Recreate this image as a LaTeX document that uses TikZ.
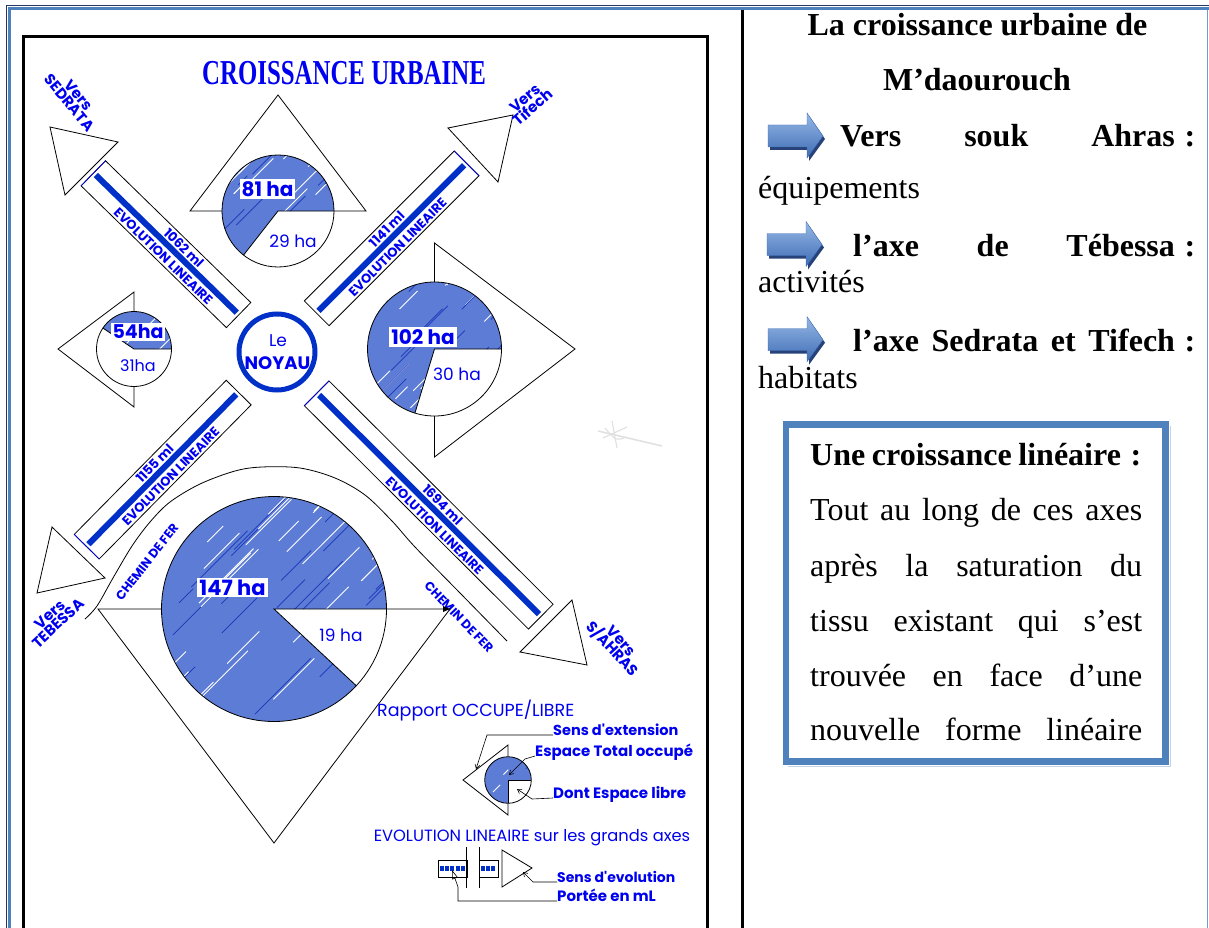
\documentclass[tikz,border=0pt]{standalone}
\usepackage{fontspec}
\setmainfont{Liberation Serif}
\newfontfamily\diagfont{Poppins}
\usetikzlibrary{arrows.meta}

\definecolor{tblnavy}{RGB}{35,55,95}
\definecolor{tblblue}{RGB}{79,129,189}
\definecolor{inkblue}{RGB}{0,0,240}
\definecolor{barblue}{RGB}{0,48,200}
\definecolor{piefill}{RGB}{92,124,214}
\definecolor{piedark}{RGB}{25,55,185}
\definecolor{arrowtop}{RGB}{150,184,230}
\definecolor{arrowbot}{RGB}{62,108,180}
\definecolor{arrowshade}{RGB}{38,66,120}

\newcommand\fsz[1]{\fontsize{#1}{#1}\selectfont}

\tikzset{
  outline/.style={draw=black, line width=0.8pt},
  ink/.style={text=inkblue, inner sep=0pt},
  lbl/.style={ink, font=\diagfont\fsz{#1}},
  lblb/.style={ink, font=\diagfont\bfseries\fsz{#1}},
  hapatch/.style={fill=white, inner sep=2pt},
  leader/.style={draw=black, line width=0.6pt},
  barb/.style={-{Straight Barb[length=4pt,width=5pt]}},
  prose/.style={inner sep=0pt, anchor=base west, font=\fsz{32}},
  prosebold/.style={inner sep=0pt, anchor=base west, font=\fsz{32}\bfseries},
}

% pie: centre x, centre y, radius, end angle of the free sector (clockwise from east), streaks
\newcommand\pie[5]{%
  \fill[white] (#1,#2) circle[radius=#3];
  \begin{scope}
    \clip (#1,#2) -- plot[domain=#4:360, samples=90, variable=\t] ({#1+#3*cos(\t)},{#2+#3*sin(\t)}) -- cycle;
    \fill[piefill] ({#1-#3},{#2-#3}) rectangle ({#1+#3},{#2+#3});
    \foreach \k in {1,...,#5}{%
      \pgfmathsetmacro\sx{#1-#3+2*#3*rnd}%
      \pgfmathsetmacro\sy{#2-#3+2*#3*rnd}%
      \pgfmathsetmacro\sl{0.1*#3+0.45*#3*rnd}%
      \draw[white, line width=0.9pt] (\sx,\sy) -- ++(\sl,-\sl);
      \pgfmathsetmacro\sx{#1-#3+2*#3*rnd}%
      \pgfmathsetmacro\sy{#2-#3+2*#3*rnd}%
      \pgfmathsetmacro\sl{0.1*#3+0.45*#3*rnd}%
      \draw[piedark, line width=0.7pt] (\sx,\sy) -- ++(\sl,-\sl);
    }
  \end{scope}
  \draw[outline] (#1,#2) circle[radius=#3];
  \draw[outline] ({#1+#3},#2) -- (#1,#2) -- ({#1+#3*cos(#4)},{#2+#3*sin(#4)});
}

% growth axis: start x, start y, direction, length, metric label,
% label positions along the axis, blue end tick, name
\newcommand\growtharm[9]{%
  \begin{scope}[shift={(#1,#2)}, rotate=#3, transform shape]
    \draw[outline, fill=white] (0,-17.5) rectangle (#4,17.5);
    \draw[barblue, line width=6pt] (3,-0.5) -- ({#4-3},-0.5);
    \draw[inkblue, line width=0.7pt] (#8,-17.5) -- (#8,17.5);
    \node[lblb=13] (#9-ml) at (#6,-10) {#5};
    \node[lblb=13] (#9-evo) at (#7,10.5) {EVOLUTION LINEAIRE};
  \end{scope}}

% 3D block arrow of the side text: top-left corner of the shaft
\newcommand\blockarrow[2]{%
  \begin{scope}[shift={(#1,#2)}]
    \fill[arrowshade] (2,3) -- (41,3) -- (41,-9) -- (57,14) -- (41,36) -- (41,25) -- (2,25) -- cycle;
    \shade[top color=arrowtop, bottom color=arrowbot, draw=arrowbot, line width=0.4pt]
      (0,0) -- (39,0) -- (39,-12) -- (55,11) -- (39,33) -- (39,22) -- (0,22) -- cycle;
  \end{scope}}

\begin{document}
\begin{tikzpicture}[x=1pt, y=-1pt]
\useasboundingbox (0,0) rectangle (1209,928);
\clip (0,0) rectangle (1209,928);
\fill[white] (0,0) rectangle (1209,928);
\pgfmathsetseed{17}

% table borders
\draw[tblnavy, line width=1.2pt] (6.5,940) -- (6.5,5.8) -- (1215,5.8);
\draw[tblblue, line width=2.6pt] (9.3,940) -- (9.3,8.7) -- (1215,8.7);
\draw[black, line width=2.4pt] (742.5,10) -- (742.5,940);
\draw[tblblue!80, line width=1pt] (1207.8,10) -- (1207.8,940);

% map frame
\draw[black, line width=3.4pt] (23.4,945) -- (23.4,36.8) -- (707.6,36.8) -- (707.6,945);

% title
\node[text=inkblue, inner sep=0pt, font=\fsz{35}\bfseries, xscale=0.71] (title) at (344,73.5) {CROISSANCE URBAINE};

% railway
\draw[outline] plot[smooth, tension=0.55] coordinates {(85,619) (97,606) (113,578) (132,546) (150,522) (170,502) (200,484) (235,471) (262,467) (300,468) (335,478) (365,495) (392,521) (415,547) (461,594) (507,641)};
\node[lblb=12.5, rotate=52] (rail-w) at (147,562) {CHEMIN DE FER};
\node[lblb=12.5, rotate=-46] (rail-e) at (459,617) {CHEMIN DE FER};

% the four growth axes
\growtharm{93.3}{173.3}{-44.3}{203}{1062 ml}{117}{108}{0}{nw}
\growtharm{316.7}{313.3}{45}{212}{1141 ml}{109}{104}{212}{ne}
\growtharm{86.7}{546.7}{45.4}{216.5}{1155 ml}{107}{109}{0}{sw}
\growtharm{316.7}{393.3}{-44.9}{316.4}{1694 ml}{168}{177}{0}{se}

% direction heads
\draw[outline, fill=white] (50,127) -- (118,142) -- (65,195) -- cycle;
\draw[outline, fill=white] (513,115) -- (448,128) -- (498,182) -- cycle;
\draw[outline, fill=white] (37,593) -- (52,527) -- (105,578) -- cycle;
\draw[outline, fill=white] (587,665) -- (520,652) -- (572,600) -- cycle;
\node[lblb=15, rotate=-50, align=center] (to-sedrata) at (74,99) {Vers\\[-3pt]SEDRATA};
\node[lblb=15, rotate=41, align=center] (to-tifech) at (529,103) {Vers\\[-3pt]Tifech};
\node[lblb=15, rotate=43, align=center] (to-tebessa) at (54,619) {Vers\\[-3pt]TEBESSA};
\node[lblb=15, rotate=-47, align=center] (to-ahras) at (616,646) {Vers\\[-3pt]S/AHRAS};

% extension triangles
\draw[outline, fill=white] (278,95) -- (366,211) -- (190,211) -- cycle;
\draw[outline, fill=white] (434.5,243) -- (575,349) -- (434.5,457) -- cycle;
\draw[outline, fill=white] (134,292) -- (58,349) -- (134,407) -- cycle;
\draw[outline, fill=white] (98,609) -- (450,609) -- (274,843) -- cycle;
\fill[black] (443,606) -- (450,609) -- (443,612) -- cycle;

% occupied / free areas
\pie{278}{211}{56}{128}{14}
\pie{434.5}{349}{67}{107}{16}
\pie{134}{349}{37.5}{214}{6}
\pie{274}{609}{112.5}{43}{30}

\node[lblb=20, hapatch] (ha81) at (267.5,189) {81 ha};
\node[lbl=17] (ha29) at (293,241) {29 ha};
\node[lblb=20, hapatch] (ha102) at (423,337) {102 ha};
\node[lbl=17] (ha30) at (457,374.5) {30 ha};
\node[lblb=19, hapatch] (ha54) at (138,332) {54ha};
\node[lbl=16] (ha31) at (138,366) {31ha};
\node[lblb=21, hapatch] (ha147) at (232.5,587.5) {147 ha};
\node[lbl=17] (ha19) at (341,635.5) {19 ha};

% the core
\node[draw=barblue, line width=5pt, circle, minimum size=76pt, inner sep=0pt] (noyau) at (277,352) {};
\node[lbl=17] (noyau-le) at (278,341) {Le};
\node[lblb=18] (noyau-name) at (277.5,363) {NOYAU};

% faint sketch
\draw[black!12, line width=1.5pt] (598,431) -- (662,446);
\draw[black!12, line width=1.1pt] (612,421) -- (617,448) (603,438) -- (627,427) (605,428) .. controls (616,441) .. (626,437);

% legend
\node[lbl=17.5, anchor=west] (leg-ratio) at (377,711) {Rapport OCCUPE/LIBRE};
\node[lblb=14.5, anchor=base west] (leg-ext) at (553,735) {Sens d'extension};
\node[lblb=15, anchor=base west] (leg-total) at (535,756) {Espace Total occupé};
\node[lblb=15, anchor=base west] (leg-free) at (553,798) {Dont Espace libre};
\draw[outline, fill=white] (508,745) -- (463,780) -- (508,815) -- cycle;
\pie{508}{780}{23.3}{90}{3}
\draw[leader, barb] (leg-ext.base west) -- (487,735) -- (476,769);
\draw[leader, barb] (leg-total.base west) -- (525,759) -- (509,775);
\draw[leader, barb] (leg-free.base west) -- (532,799) -- (517,789);

\node[lbl=16.3] (leg-linear) at (532,838) {EVOLUTION LINEAIRE sur les grands axes};
\draw[outline, fill=white] (438,860) rectangle (467,877);
\draw[barblue, line width=5.5pt, dash pattern=on 4pt off 1.2pt] (440,868.5) -- (465,868.5);
\draw[outline, fill=white] (479,860) rectangle (498,877);
\draw[barblue, line width=5.5pt, dash pattern=on 4pt off 1.2pt] (481,868.5) -- (496,868.5);
\draw[outline] (466,847) -- (466,888) (479,847) -- (479,888);
\draw[outline, fill=white] (502,850) -- (532,868) -- (502,887) -- cycle;
\node[lblb=14, anchor=base west] (leg-sens) at (557,882) {Sens d'evolution};
\node[lblb=15, anchor=base west] (leg-range) at (557,901) {Portée en mL};
\draw[leader, barb] (leg-sens.base west) -- (533,882) -- (523,872);
\draw[leader, -{Triangle[open,length=9pt,width=6pt]}] (leg-range.base west) -- (458,901) -- (458,887) -- (452,870);

% side text
\node[prosebold, anchor=base] (head1) at (977.5,36) {La croissance urbaine de};
\node[prosebold, anchor=base] (head2) at (977,90.7) {M’daourouch};

\blockarrow{768}{125}
\node[prosebold] (line1) at (840,146.7) {\makebox[355pt][s]{Vers souk Ahras\kern0.3em:}};
\node[prose] (line1b) at (758,199) {équipements};
\blockarrow{767}{233.5}
\node[prosebold] (line2) at (853,256.7) {\makebox[342pt][s]{l’axe de Tébessa\kern0.3em:}};
\node[prose] (line2b) at (758,292.7) {activités};
\blockarrow{768}{328.7}
\node[prosebold] (line3) at (853,351.7) {\makebox[342pt][s]{l’axe Sedrata et Tifech\kern0.3em:}};
\node[prose] (line3b) at (758,388.3) {habitats};

% framed note
\draw[tblblue!35, line width=1.2pt] (1170.5,426) -- (1170.5,766.8) -- (788,766.8);
\draw[tblblue, line width=6.5pt] (786,424.3) rectangle (1165.7,761.7);
\node[prosebold] (note0) at (810,465) {\makebox[331pt][s]{Une croissance linéaire\kern0.3em:}};
\node[prose] (note1) at (810,520) {\makebox[332pt][s]{Tout au long de ces axes}};
\node[prose] (note2) at (810,576.7) {\makebox[332pt][s]{après la saturation du}};
\node[prose] (note3) at (810,631.7) {\makebox[332pt][s]{tissu existant qui s’est}};
\node[prose] (note4) at (810,686.7) {\makebox[332pt][s]{trouvée en face d’une}};
\node[prose] (note5) at (810,740) {\makebox[332pt][s]{nouvelle forme linéaire}};
\end{tikzpicture}
\end{document}
